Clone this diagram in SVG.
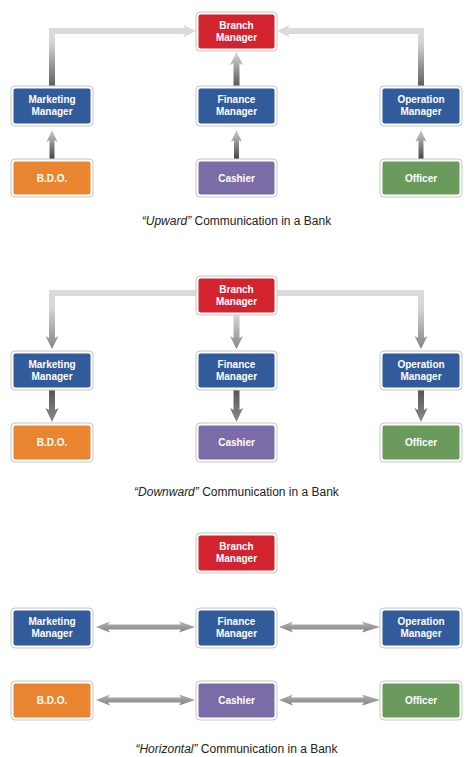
<svg xmlns="http://www.w3.org/2000/svg" width="474" height="757" viewBox="0 0 474 757">
<defs>
<style>
.frame{fill:#fff;stroke:#c6c6c6;stroke-width:1}
.red{fill:#d2232f}.blue{fill:#315b9b}.orange{fill:#e98530}.purple{fill:#7b6ca8}.green{fill:#6b9a5d}
.lbl{font-family:"Liberation Sans",Arial,sans-serif;font-weight:bold;font-size:10px;fill:#fff;text-anchor:middle}
.cap{font-family:"Liberation Sans",Arial,sans-serif;font-size:12px;fill:#222;text-anchor:middle}
</style>
<linearGradient id="gUpL" gradientUnits="userSpaceOnUse" x1="0" y1="86" x2="0" y2="28"><stop offset="0" stop-color="#5e5e5e"/><stop offset="0.75" stop-color="#d6d6d6"/><stop offset="1" stop-color="#dcdcdc"/></linearGradient>
<linearGradient id="gUpM" gradientUnits="userSpaceOnUse" x1="0" y1="86" x2="0" y2="52"><stop offset="0" stop-color="#5a5a5a"/><stop offset="1" stop-color="#d8d8d8"/></linearGradient>
<linearGradient id="gUpB" gradientUnits="userSpaceOnUse" x1="0" y1="159" x2="0" y2="130"><stop offset="0" stop-color="#444"/><stop offset="1" stop-color="#cfcfcf"/></linearGradient>
<linearGradient id="gDnL" gradientUnits="userSpaceOnUse" x1="0" y1="290" x2="0" y2="349"><stop offset="0" stop-color="#dcdcdc"/><stop offset="0.3" stop-color="#d6d6d6"/><stop offset="1" stop-color="#858585"/></linearGradient>
<linearGradient id="gDnM" gradientUnits="userSpaceOnUse" x1="0" y1="314" x2="0" y2="349"><stop offset="0" stop-color="#d8d8d8"/><stop offset="1" stop-color="#858585"/></linearGradient>
<linearGradient id="gDnB" gradientUnits="userSpaceOnUse" x1="0" y1="389" x2="0" y2="422"><stop offset="0" stop-color="#555"/><stop offset="1" stop-color="#8a8a8a"/></linearGradient>
<linearGradient id="gH" x1="0" y1="0" x2="0" y2="1"><stop offset="0" stop-color="#b4b4b4"/><stop offset="1" stop-color="#828282"/></linearGradient>
</defs>
<rect width="474" height="757" fill="#fff"/>

<g id="connectors">
<!-- upward -->
<polygon fill="url(#gUpL)" points="49,86 49,28 185,28 183,24.5 196,31 183,37.5 185,34 55,34 55,86"/>
<polygon fill="url(#gUpL)" points="424,86 424,28 288,28 290,24.5 277,31 290,37.5 288,34 418,34 418,86"/>
<polygon fill="url(#gUpM)" points="233.5,86 233.5,63 230,65 236.5,52 243,65 239.5,63 239.5,86"/>
<polygon fill="url(#gUpB)" points="49.5,159 49.5,140 46.5,142 52,130 57.5,142 54.5,140 54.5,159"/>
<polygon fill="url(#gUpB)" points="234,159 234,140 231,142 236.5,130 242,142 239,140 239,159"/>
<polygon fill="url(#gUpB)" points="418.5,159 418.5,140 415.5,142 421,130 426.5,142 423.5,140 423.5,159"/>
<!-- downward -->
<polygon fill="url(#gDnL)" points="196,290 49,290 49,338 45.5,336 52,349 58.5,336 55,338 55,296 196,296"/>
<polygon fill="url(#gDnL)" points="277,290 424,290 424,338 427.5,336 421,349 414.5,336 418,338 418,296 277,296"/>
<polygon fill="url(#gDnM)" points="233.5,314 233.5,338 230,336 236.5,349 243,336 239.5,338 239.5,314"/>
<polygon fill="url(#gDnB)" points="49,389 49,410 45.5,408 52,422 58.5,408 55,410 55,389"/>
<polygon fill="url(#gDnB)" points="233.5,389 233.5,410 230,408 236.5,422 243,408 239.5,410 239.5,389"/>
<polygon fill="url(#gDnB)" points="418,389 418,410 414.5,408 421,422 427.5,408 424,410 424,389"/>
<!-- horizontal -->
<polygon fill="url(#gH)" points="96,627 110,621.5 108,624.5 181,624.5 179,621.5 195,627 179,632.5 181,629.5 108,629.5 110,632.5"/>
<polygon fill="url(#gH)" points="279,627 293,621.5 291,624.5 364,624.5 362,621.5 380,627 362,632.5 364,629.5 291,629.5 293,632.5"/>
<polygon fill="url(#gH)" points="96,700 110,694.5 108,697.5 181,697.5 179,694.5 195,700 179,705.5 181,702.5 108,702.5 110,705.5"/>
<polygon fill="url(#gH)" points="279,700 293,694.5 291,697.5 364,697.5 362,694.5 380,700 362,705.5 364,702.5 291,702.5 293,705.5"/>
</g>

<!-- Section 1: Upward -->
<g id="up-branch"><rect class="frame" x="196" y="12" width="81" height="39" rx="4"/><rect class="red" x="198.5" y="14.5" width="76" height="34" rx="2"/><text class="lbl" x="236.5" y="28.5">Branch</text><text class="lbl" x="236.5" y="40.5">Manager</text></g>
<g id="up-marketing"><rect class="frame" x="11" y="86" width="82" height="40" rx="4"/><rect class="blue" x="13.5" y="88.5" width="77" height="35" rx="2"/><text class="lbl" x="52" y="103">Marketing</text><text class="lbl" x="52" y="115">Manager</text></g>
<g id="up-finance"><rect class="frame" x="196" y="86" width="81" height="40" rx="4"/><rect class="blue" x="198.5" y="88.5" width="76" height="35" rx="2"/><text class="lbl" x="236.5" y="103">Finance</text><text class="lbl" x="236.5" y="115">Manager</text></g>
<g id="up-operation"><rect class="frame" x="380" y="86" width="82" height="40" rx="4"/><rect class="blue" x="382.5" y="88.5" width="77" height="35" rx="2"/><text class="lbl" x="421" y="103">Operation</text><text class="lbl" x="421" y="115">Manager</text></g>
<g id="up-bdo"><rect class="frame" x="11" y="159" width="82" height="38" rx="4"/><rect class="orange" x="13.5" y="161.5" width="77" height="33" rx="2"/><text class="lbl" x="52" y="181.5">B.D.O.</text></g>
<g id="up-cashier"><rect class="frame" x="196" y="159" width="81" height="38" rx="4"/><rect class="purple" x="198.5" y="161.5" width="76" height="33" rx="2"/><text class="lbl" x="236.5" y="181.5">Cashier</text></g>
<g id="up-officer"><rect class="frame" x="380" y="159" width="82" height="38" rx="4"/><rect class="green" x="382.5" y="161.5" width="77" height="33" rx="2"/><text class="lbl" x="421" y="181.5">Officer</text></g>
<text class="cap" x="236.5" y="225"><tspan font-style="italic">“Upward”</tspan> Communication in a Bank</text>

<!-- Section 2: Downward -->
<g id="down-branch"><rect class="frame" x="196" y="276" width="81" height="39" rx="4"/><rect class="red" x="198.5" y="278.5" width="76" height="34" rx="2"/><text class="lbl" x="236.5" y="292.5">Branch</text><text class="lbl" x="236.5" y="304.5">Manager</text></g>
<g id="down-marketing"><rect class="frame" x="11" y="351" width="82" height="39" rx="4"/><rect class="blue" x="13.5" y="353.5" width="77" height="34" rx="2"/><text class="lbl" x="52" y="367.5">Marketing</text><text class="lbl" x="52" y="379.5">Manager</text></g>
<g id="down-finance"><rect class="frame" x="196" y="351" width="81" height="39" rx="4"/><rect class="blue" x="198.5" y="353.5" width="76" height="34" rx="2"/><text class="lbl" x="236.5" y="367.5">Finance</text><text class="lbl" x="236.5" y="379.5">Manager</text></g>
<g id="down-operation"><rect class="frame" x="380" y="351" width="82" height="39" rx="4"/><rect class="blue" x="382.5" y="353.5" width="77" height="34" rx="2"/><text class="lbl" x="421" y="367.5">Operation</text><text class="lbl" x="421" y="379.5">Manager</text></g>
<g id="down-bdo"><rect class="frame" x="11" y="423" width="82" height="39" rx="4"/><rect class="orange" x="13.5" y="425.5" width="77" height="34" rx="2"/><text class="lbl" x="52" y="446">B.D.O.</text></g>
<g id="down-cashier"><rect class="frame" x="196" y="423" width="81" height="39" rx="4"/><rect class="purple" x="198.5" y="425.5" width="76" height="34" rx="2"/><text class="lbl" x="236.5" y="446">Cashier</text></g>
<g id="down-officer"><rect class="frame" x="380" y="423" width="82" height="39" rx="4"/><rect class="green" x="382.5" y="425.5" width="77" height="34" rx="2"/><text class="lbl" x="421" y="446">Officer</text></g>
<text class="cap" x="236.5" y="496"><tspan font-style="italic">“Downward”</tspan> Communication in a Bank</text>

<!-- Section 3: Horizontal -->
<g id="horiz-branch"><rect class="frame" x="196" y="533" width="81" height="40" rx="4"/><rect class="red" x="198.5" y="535.5" width="76" height="35" rx="2"/><text class="lbl" x="236.5" y="550">Branch</text><text class="lbl" x="236.5" y="562">Manager</text></g>
<g id="horiz-marketing"><rect class="frame" x="11" y="608" width="82" height="40" rx="4"/><rect class="blue" x="13.5" y="610.5" width="77" height="35" rx="2"/><text class="lbl" x="52" y="625">Marketing</text><text class="lbl" x="52" y="637">Manager</text></g>
<g id="horiz-finance"><rect class="frame" x="196" y="608" width="81" height="40" rx="4"/><rect class="blue" x="198.5" y="610.5" width="76" height="35" rx="2"/><text class="lbl" x="236.5" y="625">Finance</text><text class="lbl" x="236.5" y="637">Manager</text></g>
<g id="horiz-operation"><rect class="frame" x="380" y="608" width="82" height="40" rx="4"/><rect class="blue" x="382.5" y="610.5" width="77" height="35" rx="2"/><text class="lbl" x="421" y="625">Operation</text><text class="lbl" x="421" y="637">Manager</text></g>
<g id="horiz-bdo"><rect class="frame" x="11" y="681" width="82" height="39" rx="4"/><rect class="orange" x="13.5" y="683.5" width="77" height="34" rx="2"/><text class="lbl" x="52" y="704">B.D.O.</text></g>
<g id="horiz-cashier"><rect class="frame" x="196" y="681" width="81" height="39" rx="4"/><rect class="purple" x="198.5" y="683.5" width="76" height="34" rx="2"/><text class="lbl" x="236.5" y="704">Cashier</text></g>
<g id="horiz-officer"><rect class="frame" x="380" y="681" width="82" height="39" rx="4"/><rect class="green" x="382.5" y="683.5" width="77" height="34" rx="2"/><text class="lbl" x="421" y="704">Officer</text></g>
<text class="cap" x="236.5" y="753"><tspan font-style="italic">“Horizontal”</tspan> Communication in a Bank</text>
</svg>
